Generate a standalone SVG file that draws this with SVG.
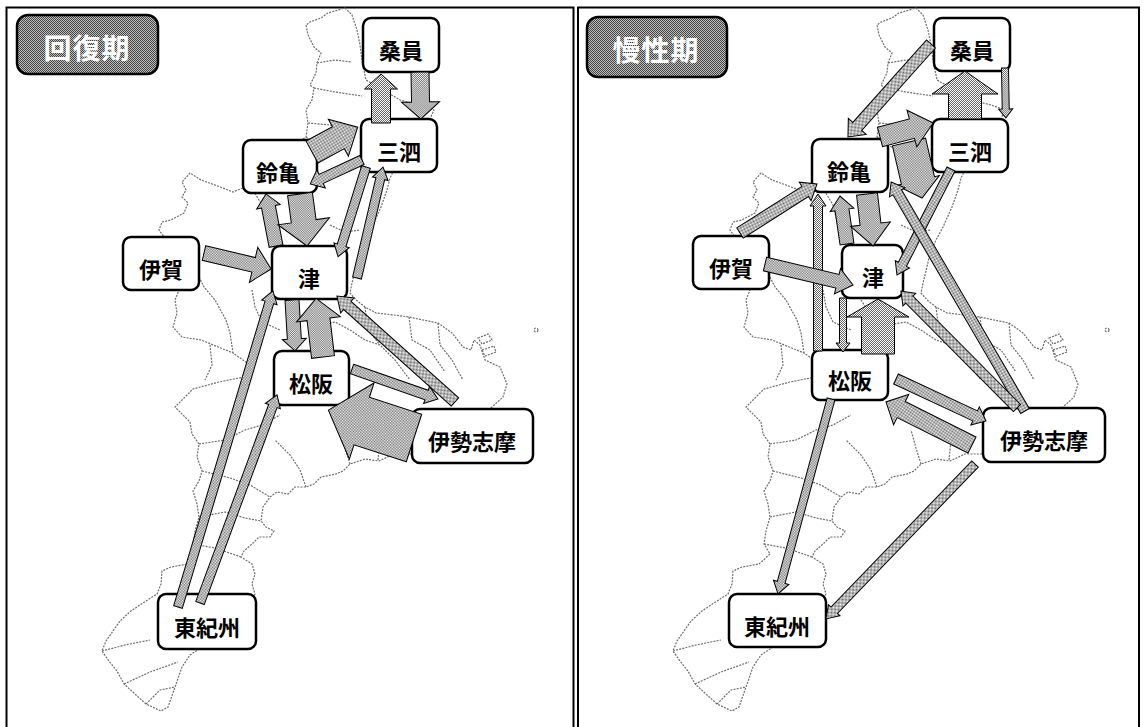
<svg xmlns="http://www.w3.org/2000/svg" width="1144" height="727" viewBox="0 0 1144 727">
<style>
.panel{fill:none;stroke:#000;stroke-width:2}
.map{fill:none;stroke:#6e6e6e;stroke-width:1.2;stroke-dasharray:2 1.2}
.node rect{fill:#fff;stroke:#000;stroke-width:2.5}
.node text{font-family:"Noto Sans CJK JP","Noto Sans CJK SC",sans-serif;font-weight:bold;font-size:22px;fill:#000;text-anchor:middle}
.title rect{fill:url(#chkd);stroke:#000;stroke-width:2.5}
.title text{font-family:"Noto Sans CJK JP","Noto Sans CJK SC",sans-serif;font-weight:bold;font-size:28px;fill:#fff;text-anchor:middle;letter-spacing:1px}
.arr path{fill:url(#chk);stroke:#000;stroke-width:1}
</style>
<defs>
<pattern id="chk" width="2" height="2" patternUnits="userSpaceOnUse">
<rect width="2" height="2" fill="#fff"/><rect width="1" height="1" fill="#666"/><rect x="1" y="1" width="1" height="1" fill="#666"/>
</pattern>
<pattern id="chkd" width="2" height="2" patternUnits="userSpaceOnUse">
<rect width="2" height="2" fill="#bdbdbd"/><rect width="1" height="1" fill="#444"/><rect x="1" y="1" width="1" height="1" fill="#444"/>
</pattern>
<g id="mapshape">
<path class="map" d="M345,8 L352,15 L357,30 L360,45 L362,60 L366,80 L380,88 L400,100 L420,105 L434,110 L425,130 L410,150 L395,168 L390,178 L387,190 L381,207 L372,227 L365,240 L359,253 L356,267 L352,283 L350,293 L356,300 L365,307 L376,313 L394,315 L409,317 L423,320 L438,323 L452,333 L463,347 L471,350 L474,340 L480,345 L485,360 L500,367 L507,384 L503,397 L492,407 L470,430 L412,454 L394,454 L379,461 L365,459 L350,464 L343,471 L336,474 L321,477 L314,484 L306,487 L295,487 L288,494 L277,492 L270,497 L263,507 L261,521 L266,527 L274,531 L270,537 L259,537 L252,544 L244,551 L241,557 L252,564 L255,574 L252,584 L255,594 L240,620 L205,645 L190,655 L182,667 L175,687 L168,707 L161,711 L146,704 L135,694 L124,684 L117,671 L109,661 L102,651 L106,641 L113,631 L120,621 L131,611 L146,601 L157,594 L161,584 L162,571 L171,567 L188,564 L199,554 L193,544 L195,531 L199,517 L197,504 L193,491 L199,481 L202,471 L197,457 L199,444 L192,434 L190,422 L175,407 L193,389 L219,382 L244,377 L250,365 L233,353 L201,340 L182,337 L173,327 L177,313 L175,300 L179,290 L170,270 L164,237 L159,230 L162,222 L171,220 L184,213 L188,203 L182,197 L186,190 L182,182 L190,173 L201,180 L215,185 L233,192 L250,185 L275,160 L306,137 L308,123 L306,110 L312,100 L314,88 L310,85 L316,73 L317,63 L321,53 L314,47 L308,35 L306,25 L310,22 L321,18 L328,13 Z"/>
<path class="map" d="M317,63 L335,60 L352,62 M314,88 L335,92 L362,96 M308,123 L330,125 L352,132 M306,137 L325,150 M250,185 L262,205 L268,230 M199,277 L204,287 L215,300 L226,320 L230,333 L233,353 M252,290 L255,307 L262,322 L280,330 M317,325 L335,322 L350,330 L365,340 L380,345 L395,360 L410,380 M365,307 L368,330 L380,345 M409,317 L412,340 L430,350 L445,372 M438,323 L440,345 L452,360 L463,380 M199,444 L225,440 L245,430 L262,425 L280,415 M202,471 L230,478 L250,485 L270,497 M199,517 L225,512 L245,518 L261,521 M193,544 L215,548 L241,557 M102,651 L125,645 L150,640 M124,684 L150,672 L178,662 M146,704 L160,690 L175,687 M306,487 L300,470 L290,455 L275,440 M350,464 L345,448 L340,430 M378,460 L380,440 M290,300 L300,315 L317,325 M330,225 L345,232 L360,230 M210,345 L212,365 L205,380"/>
<circle class="map" cx="536" cy="330" r="2"/>
<path class="map" d="M478,338 L488,334 L492,340 L482,344 Z M482,350 L494,346 L496,352 L485,356 Z"/>
</g>
</defs>
<rect class="panel" x="6.5" y="7.5" width="567" height="740"/>
<rect class="panel" x="578" y="7.5" width="561" height="740"/>
<use href="#mapshape"/>
<use href="#mapshape" transform="translate(571,0)"/>
<g id="title-left" class="title"><rect x="17" y="15" width="141" height="59" rx="11"/><text x="87" y="59">回復期</text></g>
<g id="title-right" class="title"><rect x="587" y="17" width="140" height="60" rx="11"/><text x="656" y="61">慢性期</text></g>
<g id="L-kuwana" class="node"><rect x="363" y="18" width="76" height="54" rx="8"/><text x="401" y="59">桑員</text></g>
<g id="L-sansi" class="node"><rect x="361" y="119" width="76" height="53" rx="8"/><text x="399" y="160">三泗</text></g>
<g id="L-suzuka" class="node"><rect x="243" y="140" width="74" height="53" rx="8"/><text x="278" y="181">鈴亀</text></g>
<g id="L-iga" class="node"><rect x="123" y="237" width="76" height="53" rx="8"/><text x="161" y="278">伊賀</text></g>
<g id="L-tsu" class="node"><rect x="272" y="246" width="75" height="53" rx="8"/><text x="309" y="287">津</text></g>
<g id="L-matsusaka" class="node"><rect x="274" y="351" width="75" height="54" rx="8"/><text x="311" y="392">松阪</text></g>
<g id="L-iseshima" class="node"><rect x="412" y="409" width="121" height="54" rx="8"/><text x="472" y="450">伊勢志摩</text></g>
<g id="L-higashikishu" class="node"><rect x="158" y="594" width="98" height="55" rx="8"/><text x="207" y="636">東紀州</text></g>
<g id="R-kuwana" class="node"><rect x="934" y="18" width="76" height="53" rx="8"/><text x="972" y="59">桑員</text></g>
<g id="R-sansi" class="node"><rect x="932" y="119" width="76" height="53" rx="8"/><text x="970" y="160">三泗</text></g>
<g id="R-suzuka" class="node"><rect x="812" y="139" width="76" height="53" rx="8"/><text x="849" y="180">鈴亀</text></g>
<g id="R-iga" class="node"><rect x="693" y="236" width="76" height="53" rx="8"/><text x="731" y="277">伊賀</text></g>
<g id="R-tsu" class="node"><rect x="842" y="245" width="61" height="53" rx="8"/><text x="873" y="286">津</text></g>
<g id="R-matsusaka" class="node"><rect x="812" y="350" width="76" height="50" rx="8"/><text x="850" y="389">松阪</text></g>
<g id="R-iseshima" class="node"><rect x="983" y="408" width="122" height="54" rx="8"/><text x="1044" y="449">伊勢志摩</text></g>
<g id="R-higashikishu" class="node"><rect x="729" y="594" width="97" height="53" rx="8"/><text x="777" y="635">東紀州</text></g>
<g id="connectors" class="arr">
<path transform="translate(381,123) rotate(-90)" d="M0,-9.5H34V-16.5L49,0L34,16.5V9.5H0Z"/>
<path transform="translate(420,72) rotate(89)" d="M0,-9H30V-19L47,0L30,19V9H0Z"/>
<path transform="translate(312,152) rotate(-28.5)" d="M0,-12.5H30V-21L52,0L30,21V12.5H0Z"/>
<path transform="translate(362,160) rotate(155.2)" d="M0,-5H45V-10L57,0L45,10V5H0Z"/>
<path transform="translate(276,246) rotate(-100.9)" d="M0,-7H40V-12L53,0L40,12V7H0Z"/>
<path transform="translate(300,194) rotate(82.3)" d="M0,-12.5H27.5V-26L52.5,0L27.5,26V12.5H0Z"/>
<path transform="translate(204,253) rotate(13.4)" d="M0,-7.5H51V-18L69,0L51,18V7.5H0Z"/>
<path transform="translate(366,167) rotate(107.3)" d="M0,-4.5H82V-8L94,0L82,8V4.5H0Z"/>
<path transform="translate(357,278) rotate(-76.8)" d="M0,-4.5H102V-8L114,0L102,8V4.5H0Z"/>
<path transform="translate(292,300) rotate(86.6)" d="M0,-7H39V-12L51,0L39,12V7H0Z"/>
<path transform="translate(323,357) rotate(-96.8)" d="M0,-11.5H38V-22L59,0L38,22V11.5H0Z"/>
<path transform="translate(455,402) rotate(-138.1)" d="M0,-5.5H144.6V-10L158.6,0L144.6,10V5.5H0Z"/>
<path transform="translate(352,369) rotate(19.2)" d="M0,-5H79V-9L91,0L79,9V5H0Z"/>
<path transform="translate(414,438) rotate(-162)" d="M0,-25H55V-40L90,0L55,40V25H0Z"/>
<path transform="translate(178,607) rotate(-73.3)" d="M0,-4.5H318V-8L330,0L318,8V4.5H0Z"/>
<path transform="translate(200,603) rotate(-69.7)" d="M0,-4.5H210V-8L222,0L210,8V4.5H0Z"/>
<path transform="translate(931,44) rotate(131.8)" d="M0,-6H110.6V-12L124.6,0L110.6,12V6H0Z"/>
<path transform="translate(965,119) rotate(-90)" d="M0,-16.5H25V-33L48,0L25,33V16.5H0Z"/>
<path transform="translate(1005,68) rotate(89)" d="M0,-3.5H41V-7L50,0L41,7V3.5H0Z"/>
<path transform="translate(909,142) rotate(76.9)" d="M0,-17H39.5V-22L57.5,0L39.5,22V17H0Z"/>
<path transform="translate(880,137) rotate(-14.8)" d="M0,-10H33V-19L55,0L33,19V10H0Z"/>
<path transform="translate(740,233) rotate(-32.5)" d="M0,-6H77.3V-11L91.3,0L77.3,11V6H0Z"/>
<path transform="translate(818,351) rotate(-90)" d="M0,-4.5H145V-8L157,0L145,8V4.5H0Z"/>
<path transform="translate(847,244) rotate(-98.3)" d="M0,-7H34.5V-12L48.5,0L34.5,12V7H0Z"/>
<path transform="translate(867,194) rotate(83.4)" d="M0,-10.5H30.3V-20L52.3,0L30.3,20V10.5H0Z"/>
<path transform="translate(765,264) rotate(13.4)" d="M0,-7H74.5V-13L90.5,0L74.5,13V7H0Z"/>
<path transform="translate(951,169) rotate(117)" d="M0,-4.5H107V-8L119,0L107,8V4.5H0Z"/>
<path transform="translate(1025,411) rotate(-120.3)" d="M0,-5H253.3V-9L265.3,0L253.3,9V5H0Z"/>
<path transform="translate(843,298) rotate(90)" d="M0,-3.5H45V-7L54,0L45,7V3.5H0Z"/>
<path transform="translate(878,354) rotate(-90)" d="M0,-16.5H37V-31L55,0L37,31V16.5H0Z"/>
<path transform="translate(896,379) rotate(25)" d="M0,-5.5H87.3V-10L99.3,0L87.3,10V5.5H0Z"/>
<path transform="translate(972,445) rotate(-153.4)" d="M0,-9H79.2V-17L96.2,0L79.2,17V9H0Z"/>
<path transform="translate(831,399) rotate(105.2)" d="M0,-4H190V-8L202,0L190,8V4H0Z"/>
<path transform="translate(975,464) rotate(133.9)" d="M0,-4.5H203V-8L215,0L203,8V4.5H0Z"/>
<path transform="translate(1017,408) rotate(-134.8)" d="M0,-5H152.8V-9L164.8,0L152.8,9V5H0Z"/>
</g>
</svg>
